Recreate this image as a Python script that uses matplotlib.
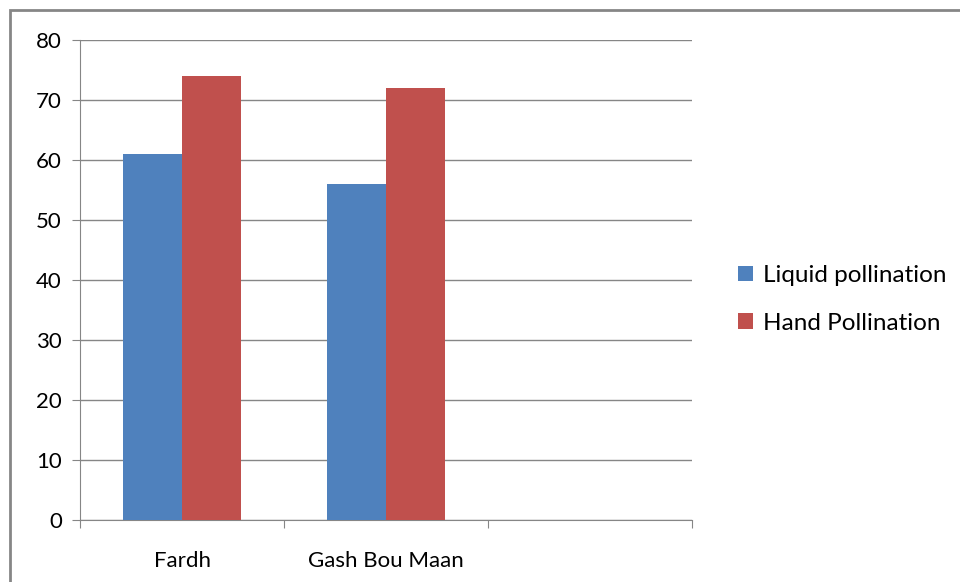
import numpy as np
import matplotlib
matplotlib.use("Agg")
import matplotlib.pyplot as plt
from matplotlib.patches import Rectangle

categories = ["Fardh", "Gash Bou Maan", ""]
liquid = [61, 56]
hand = [74, 72]
series_names = ["Liquid pollination", "Hand Pollination"]
yticks = [0, 10, 20, 30, 40, 50, 60, 70, 80]

plt.rcParams["font.family"] = ["Lato", "DejaVu Sans"]

fig = plt.figure(figsize=(9.6, 5.82), dpi=100)
ax = fig.add_axes([80 / 960, 1 - 520 / 582, 612 / 960, 480 / 582])

# outer chart frame (cut off on right and bottom like the screenshot)
fig.patches.append(Rectangle((10 / 960, -0.1), 1.2, 1 - 10 / 582 + 0.1,
                             transform=fig.transFigure, fill=False,
                             edgecolor="#868686", linewidth=2))

w = 0.29
x = np.arange(len(liquid))
ax.bar(x - w / 2, liquid, width=w, color="#4F81BD", label=series_names[0], zorder=3)
ax.bar(x + w / 2, hand, width=w, color="#C0504D", label=series_names[1], zorder=3)

ax.set_xlim(-0.5, 2.5)
ax.set_ylim(0, 80)
ax.set_yticks(yticks)
ax.tick_params(axis="y", labelsize=16, length=6, color="#868686", pad=7)
ax.yaxis.grid(True, color="#868686", linewidth=1, zorder=0)

# category labels centred in slots, tick marks on slot boundaries
ax.set_xticks([-0.5, 0.5, 1.5, 2.5])
ax.set_xticklabels([])
ax.set_xticks(np.arange(len(categories)), minor=True)
ax.set_xticklabels(categories, minor=True, fontsize=16)
ax.tick_params(axis="x", which="major", length=6, color="#868686")
ax.tick_params(axis="x", which="minor", length=0, pad=22)

for s in ["top", "right"]:
    ax.spines[s].set_visible(False)
for s in ["left", "bottom"]:
    ax.spines[s].set_color("#868686")

ax.legend(loc="center left", bbox_to_anchor=(1.04, 0.46), frameon=False,
          fontsize=17.5, handlelength=0.6, handleheight=0.6, handletextpad=0.4,
          labelspacing=1.1)

fig.savefig("out.png", dpi=100)
